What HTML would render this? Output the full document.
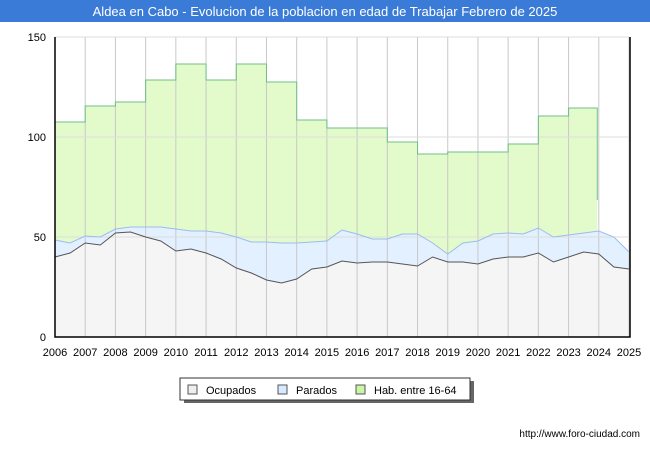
<!DOCTYPE html>
<html><head><meta charset="utf-8"><style>
body{margin:0;width:650px;height:450px;background:#fff;font-family:"Liberation Sans",sans-serif;overflow:hidden}
</style></head><body>
<svg width="650" height="450" xmlns="http://www.w3.org/2000/svg" font-family="Liberation Sans, DejaVu Sans, sans-serif">
<rect x="0" y="0" width="650" height="22" fill="#3b7bd8"/>
<text x="325" y="16" text-anchor="middle" fill="#fff" font-size="13">Aldea en Cabo - Evolucion de la poblacion en edad de Trabajar Febrero de 2025</text>
<g id="plot"></g>
<g>
<rect x="184" y="381" width="290" height="22" fill="#666"/>
<rect x="180" y="378" width="290" height="22" fill="#fff" stroke="#333"/>
<rect x="188" y="385" width="9" height="9" fill="#eee" stroke="#555"/>
<text x="206" y="394" font-size="11" fill="#000">Ocupados</text>
<rect x="278" y="385" width="9" height="9" fill="#d8eaff" stroke="#555"/>
<text x="296" y="394" font-size="11" fill="#000">Parados</text>
<rect x="356" y="385" width="9" height="9" fill="#ccf5a8" stroke="#555"/>
<text x="374" y="394" font-size="11" fill="#000">Hab. entre 16-64</text>
</g>
<text x="640" y="437" text-anchor="end" font-size="10" fill="#000">http://www.foro-ciudad.com</text>
</svg>
<script>
const years=[2006,2007,2008,2009,2010,2011,2012,2013,2014,2015,2016,2017,2018,2019,2020,2021,2022,2023,2024,2025];
const habValues=[107.5,115.5,117.5,128.5,136.5,128.5,136.5,127.5,108.5,104.5,104.5,97.5,91.5,92.5,92.5,96.5,110.5,114.5];
const habEnd=2023.95, habDrop=68.5;
const seriesTimes=[2006,2006.5,2007,2007.5,2008,2008.5,2009,2009.5,2010,2010.5,2011,2011.5,2012,2012.5,2013,2013.5,2014,2014.5,2015,2015.5,2016,2016.5,2017,2017.5,2018,2018.5,2019,2019.5,2020,2020.5,2021,2021.5,2022,2022.5,2023,2023.5,2024,2024.5,2025];
const ocupados=[40,42,47,46,52,52.5,50,48,43,44,42,39,34.5,32,28.5,27,29,34,35,38,37,37.5,37.5,36.5,35.5,40,37.5,37.5,36.5,39,40,40,42,37.5,40,42.5,41.5,35,34];
const activos=[48.5,47,50.5,50,54,55,55,55,54,53,53,52,50,47.5,47.5,47,47,47.5,48,53.5,51.5,49,49,51.5,51.5,47,41.5,47,48,51.5,52,51.5,54.5,50,51,52,53,50,42.5];
const yTicks=[0,50,100,150];
const X0=55,X1=629,Y0=337,Y1=37;
const xs=v=>X0+(v-2006)/(2025-2006)*(X1-X0);
const ys=v=>Y0-v/150*(Y0-Y1);
const NS='http://www.w3.org/2000/svg';
const g=document.getElementById('plot');
function mk(t,a){const e=document.createElementNS(NS,t);for(const k in a)e.setAttribute(k,a[k]);g.appendChild(e);return e;}
let e=mk('rect',{x:X0,y:Y1,width:X1-X0,height:Y0-Y1,fill:'#fff'});


let hp=`M${xs(2006)},${ys(0)}`;
habValues.forEach((v,i)=>{hp+=` L${xs(years[i])},${ys(v)} L${xs(i<habValues.length-1?years[i+1]:habEnd)},${ys(v)}`;});
hp+=` L${xs(habEnd)},${ys(habDrop)}`;
e=mk('path',{d:hp+` L${xs(habEnd)},${ys(0)} Z`,fill:'#e3fbcb',stroke:'none'});


const line=arr=>arr.map((v,i)=>`${i?'L':'M'}${xs(seriesTimes[i])},${ys(v)}`).join(' ');
e=mk('path',{d:line(activos)+` L${xs(2025)},${ys(0)} L${xs(2006)},${ys(0)} Z`,fill:'#e3f0ff'});


e=mk('path',{d:line(ocupados)+` L${xs(2025)},${ys(0)} L${xs(2006)},${ys(0)} Z`,fill:'#f5f5f5'});


years.forEach(y=>{const l=mk('line',{x1:xs(y),x2:xs(y),y1:Y1,y2:Y0,stroke:'#c8c8c8'});


const t=mk('text',{x:xs(y),y:356,'text-anchor':'middle','font-size':11,fill:'#000'});t.textContent=y;

});
yTicks.forEach(v=>{const l=mk('line',{x1:X0,x2:X1,y1:ys(v),y2:ys(v),stroke:'#ddd'});


const t=mk('text',{x:46,y:ys(v)+4,'text-anchor':'end','font-size':11,fill:'#000'});t.textContent=v;

});
e=mk('path',{d:hp.replace(/^M[^L]*L/,'M'),fill:'none',stroke:'#6fbf8a','stroke-width':1});


e=mk('path',{d:line(activos),fill:'none',stroke:'#9bbcf0','stroke-width':1});


e=mk('path',{d:line(ocupados),fill:'none',stroke:'#555','stroke-width':1});


e=mk('path',{d:`M${X0},${Y1} L${X0},${Y0} L${X1+1},${Y0} L${X1+1},${Y1}`,fill:'none',stroke:'#000','stroke-width':1.5});


</script>
</body></html>
